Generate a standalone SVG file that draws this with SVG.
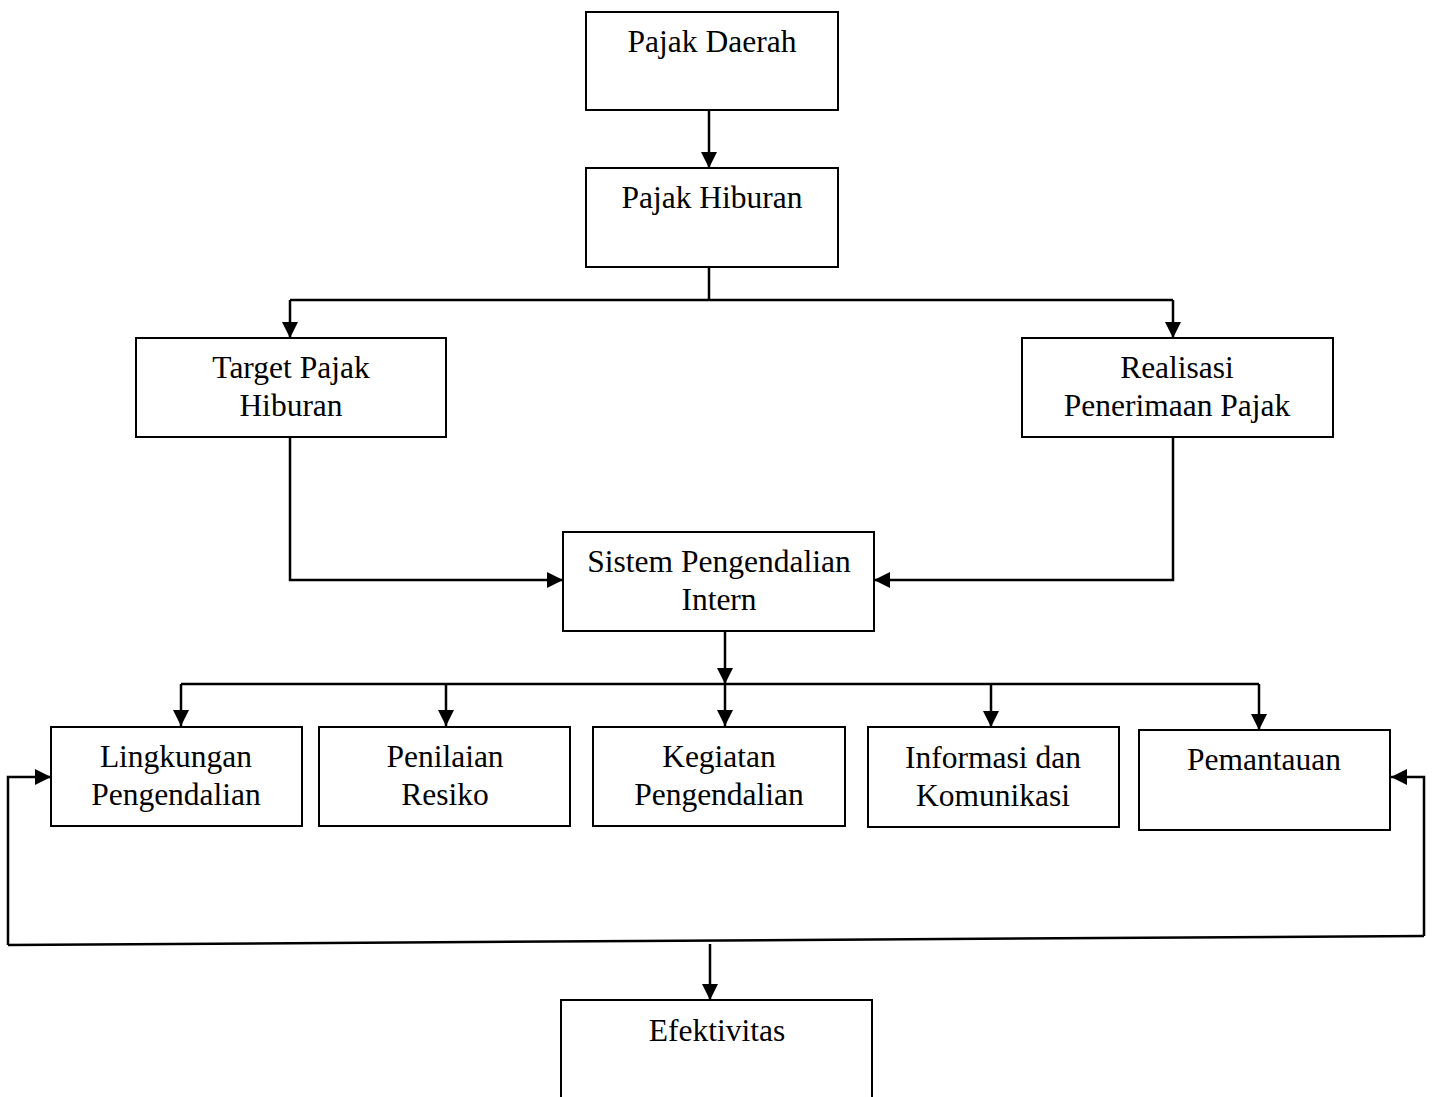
<svg xmlns="http://www.w3.org/2000/svg" width="1433" height="1097" viewBox="0 0 1433 1097">
<style>
.box{fill:#fff;stroke:#000;stroke-width:2}
.t{font-family:"Liberation Serif","Times New Roman",serif;font-size:31.5px;fill:#000;text-anchor:middle}
.c{fill:none;stroke:#000;stroke-width:2.5}
</style>
<defs>
<marker id="ah" markerUnits="userSpaceOnUse" markerWidth="16" markerHeight="16" refX="16" refY="8" orient="auto">
<path d="M0,0 L16,8 L0,16 z" fill="#000"/>
</marker>
</defs>
<rect width="1433" height="1097" fill="#fff"/>
<g id="connectors">
<path class="c" d="M709,110 V168" marker-end="url(#ah)"/>
<path class="c" d="M709,267 V300"/>
<path class="c" d="M290,300 H1173"/>
<path class="c" d="M290,300 V338" marker-end="url(#ah)"/>
<path class="c" d="M1173,300 V338" marker-end="url(#ah)"/>
<path class="c" d="M290,437 V580 H563" marker-end="url(#ah)"/>
<path class="c" d="M1173,437 V580 H874" marker-end="url(#ah)"/>
<path class="c" d="M725,631 V684" marker-end="url(#ah)"/>
<path class="c" d="M181,684 H1259"/>
<path class="c" d="M181,684 V726" marker-end="url(#ah)"/>
<path class="c" d="M446,684 V726" marker-end="url(#ah)"/>
<path class="c" d="M725,684 V726" marker-end="url(#ah)"/>
<path class="c" d="M991,684 V727" marker-end="url(#ah)"/>
<path class="c" d="M1259,684 V730" marker-end="url(#ah)"/>
<path class="c" d="M8,945 V777 H51" marker-end="url(#ah)"/>
<path class="c" d="M1424,936 V777 H1391" marker-end="url(#ah)"/>
<path class="c" d="M8,945 L1424,936"/>
<path class="c" d="M710,944 V1000" marker-end="url(#ah)"/>
</g>
<g id="pajak-daerah"><rect class="box" x="586" y="12" width="252" height="98"/><text class="t" x="712" y="52">Pajak Daerah</text></g>
<g id="pajak-hiburan"><rect class="box" x="586" y="168" width="252" height="99"/><text class="t" x="712" y="208">Pajak Hiburan</text></g>
<g id="target"><rect class="box" x="136" y="338" width="310" height="99"/><text class="t" x="291" y="378">Target Pajak</text><text class="t" x="291" y="416">Hiburan</text></g>
<g id="realisasi"><rect class="box" x="1022" y="338" width="311" height="99"/><text class="t" x="1177" y="378">Realisasi</text><text class="t" x="1177" y="416">Penerimaan Pajak</text></g>
<g id="sistem"><rect class="box" x="563" y="532" width="311" height="99"/><text class="t" x="719" y="572">Sistem Pengendalian</text><text class="t" x="719" y="610">Intern</text></g>
<g id="lingkungan"><rect class="box" x="51" y="727" width="251" height="99"/><text class="t" x="176" y="767">Lingkungan</text><text class="t" x="176" y="805">Pengendalian</text></g>
<g id="penilaian"><rect class="box" x="319" y="727" width="251" height="99"/><text class="t" x="445" y="767">Penilaian</text><text class="t" x="445" y="805">Resiko</text></g>
<g id="kegiatan"><rect class="box" x="593" y="727" width="252" height="99"/><text class="t" x="719" y="767">Kegiatan</text><text class="t" x="719" y="805">Pengendalian</text></g>
<g id="informasi"><rect class="box" x="868" y="727" width="251" height="100"/><text class="t" x="993" y="768">Informasi dan</text><text class="t" x="993" y="806">Komunikasi</text></g>
<g id="pemantauan"><rect class="box" x="1139" y="730" width="251" height="100"/><text class="t" x="1264" y="770">Pemantauan</text></g>
<g id="efektivitas"><rect class="box" x="561" y="1000" width="311" height="120"/><text class="t" x="717" y="1041">Efektivitas</text></g>
</svg>
